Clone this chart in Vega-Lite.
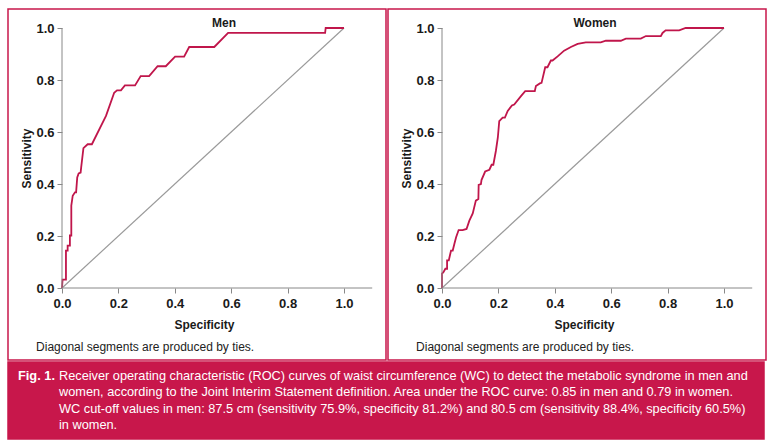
{
  "$schema": "https://vega.github.io/schema/vega-lite/v6.json",
  "background": "white",
  "padding": {"left": 7, "top": 8, "right": 7, "bottom": 8},
  "spacing": 0,
  "config": {
    "font": "Liberation Sans",
    "view": {"stroke": "#c8174b", "strokeWidth": 1.5},
    "axis": {
      "grid": false, "domain": false,
      "labelFont": "Liberation Sans", "labelFontSize": 13, "labelFontWeight": "bold", "labelColor": "#1a1a1a",
      "tickColor": "#888888", "tickSize": 5, "tickWidth": 1,
      "titleFont": "Liberation Sans", "titleFontSize": 12, "titleFontWeight": "bold", "titleColor": "#1a1a1a"
    }
  },
  "datasets": {
    "men": [
      {"i": 0, "spec": 0, "sens": 0},
      {"i": 1, "spec": 0.002, "sens": 0.032},
      {"i": 2, "spec": 0.014, "sens": 0.032},
      {"i": 3, "spec": 0.014, "sens": 0.144},
      {"i": 4, "spec": 0.020, "sens": 0.144},
      {"i": 5, "spec": 0.020, "sens": 0.163},
      {"i": 6, "spec": 0.028, "sens": 0.163},
      {"i": 7, "spec": 0.028, "sens": 0.202},
      {"i": 8, "spec": 0.033, "sens": 0.202},
      {"i": 9, "spec": 0.033, "sens": 0.317},
      {"i": 10, "spec": 0.038, "sens": 0.355},
      {"i": 11, "spec": 0.046, "sens": 0.368},
      {"i": 12, "spec": 0.050, "sens": 0.368},
      {"i": 13, "spec": 0.054, "sens": 0.425},
      {"i": 14, "spec": 0.059, "sens": 0.441},
      {"i": 15, "spec": 0.066, "sens": 0.444},
      {"i": 16, "spec": 0.068, "sens": 0.464},
      {"i": 17, "spec": 0.076, "sens": 0.538},
      {"i": 18, "spec": 0.091, "sens": 0.553},
      {"i": 19, "spec": 0.106, "sens": 0.553},
      {"i": 20, "spec": 0.156, "sens": 0.662},
      {"i": 21, "spec": 0.185, "sens": 0.751},
      {"i": 22, "spec": 0.195, "sens": 0.760},
      {"i": 23, "spec": 0.209, "sens": 0.760},
      {"i": 24, "spec": 0.223, "sens": 0.779},
      {"i": 25, "spec": 0.259, "sens": 0.779},
      {"i": 26, "spec": 0.279, "sens": 0.815},
      {"i": 27, "spec": 0.309, "sens": 0.815},
      {"i": 28, "spec": 0.339, "sens": 0.853},
      {"i": 29, "spec": 0.368, "sens": 0.853},
      {"i": 30, "spec": 0.401, "sens": 0.890},
      {"i": 31, "spec": 0.433, "sens": 0.890},
      {"i": 32, "spec": 0.451, "sens": 0.927},
      {"i": 33, "spec": 0.540, "sens": 0.927},
      {"i": 34, "spec": 0.589, "sens": 0.981},
      {"i": 35, "spec": 0.933, "sens": 0.981},
      {"i": 36, "spec": 0.935, "sens": 1.0},
      {"i": 37, "spec": 1.0, "sens": 1.0}
    ],
    "women": [
      {"i": 0, "spec": 0, "sens": 0},
      {"i": 1, "spec": 0, "sens": 0.055},
      {"i": 2, "spec": 0.005, "sens": 0.061},
      {"i": 3, "spec": 0.012, "sens": 0.074},
      {"i": 4, "spec": 0.018, "sens": 0.074},
      {"i": 5, "spec": 0.018, "sens": 0.106},
      {"i": 6, "spec": 0.024, "sens": 0.106},
      {"i": 7, "spec": 0.028, "sens": 0.125},
      {"i": 8, "spec": 0.032, "sens": 0.144},
      {"i": 9, "spec": 0.038, "sens": 0.144},
      {"i": 10, "spec": 0.044, "sens": 0.170},
      {"i": 11, "spec": 0.050, "sens": 0.195},
      {"i": 12, "spec": 0.059, "sens": 0.223},
      {"i": 13, "spec": 0.073, "sens": 0.223},
      {"i": 14, "spec": 0.087, "sens": 0.227},
      {"i": 15, "spec": 0.097, "sens": 0.259},
      {"i": 16, "spec": 0.109, "sens": 0.287},
      {"i": 17, "spec": 0.120, "sens": 0.336},
      {"i": 18, "spec": 0.129, "sens": 0.342},
      {"i": 19, "spec": 0.130, "sens": 0.397},
      {"i": 20, "spec": 0.138, "sens": 0.400},
      {"i": 21, "spec": 0.140, "sens": 0.415},
      {"i": 22, "spec": 0.153, "sens": 0.448},
      {"i": 23, "spec": 0.168, "sens": 0.455},
      {"i": 24, "spec": 0.176, "sens": 0.474},
      {"i": 25, "spec": 0.182, "sens": 0.474},
      {"i": 26, "spec": 0.191, "sens": 0.527},
      {"i": 27, "spec": 0.198, "sens": 0.579},
      {"i": 28, "spec": 0.203, "sens": 0.642},
      {"i": 29, "spec": 0.215, "sens": 0.655},
      {"i": 30, "spec": 0.223, "sens": 0.655},
      {"i": 31, "spec": 0.233, "sens": 0.681},
      {"i": 32, "spec": 0.248, "sens": 0.702},
      {"i": 33, "spec": 0.256, "sens": 0.706},
      {"i": 34, "spec": 0.280, "sens": 0.738},
      {"i": 35, "spec": 0.295, "sens": 0.757},
      {"i": 36, "spec": 0.329, "sens": 0.757},
      {"i": 37, "spec": 0.333, "sens": 0.777},
      {"i": 38, "spec": 0.347, "sens": 0.787},
      {"i": 39, "spec": 0.353, "sens": 0.789},
      {"i": 40, "spec": 0.366, "sens": 0.849},
      {"i": 41, "spec": 0.374, "sens": 0.849},
      {"i": 42, "spec": 0.386, "sens": 0.875},
      {"i": 43, "spec": 0.392, "sens": 0.875},
      {"i": 44, "spec": 0.410, "sens": 0.891},
      {"i": 45, "spec": 0.433, "sens": 0.913},
      {"i": 46, "spec": 0.457, "sens": 0.927},
      {"i": 47, "spec": 0.481, "sens": 0.939},
      {"i": 48, "spec": 0.510, "sens": 0.945},
      {"i": 49, "spec": 0.563, "sens": 0.945},
      {"i": 50, "spec": 0.581, "sens": 0.951},
      {"i": 51, "spec": 0.634, "sens": 0.951},
      {"i": 52, "spec": 0.652, "sens": 0.959},
      {"i": 53, "spec": 0.705, "sens": 0.959},
      {"i": 54, "spec": 0.723, "sens": 0.969},
      {"i": 55, "spec": 0.776, "sens": 0.969},
      {"i": 56, "spec": 0.782, "sens": 0.981},
      {"i": 57, "spec": 0.793, "sens": 0.991},
      {"i": 58, "spec": 0.841, "sens": 0.991},
      {"i": 59, "spec": 0.864, "sens": 1.0},
      {"i": 60, "spec": 1.0, "sens": 1.0}
    ],
    "diag": [{"i": 0, "spec": 0, "sens": 0}, {"i": 1, "spec": 1, "sens": 1}],
    "note": [{"note": "Diagonal segments are produced by ties."}],
    "menTitle": [{"label": "Men"}],
    "womenTitle": [{"label": "Women"}],
    "tag": [{"line": 1, "part": "tag", "text": "Fig. 1."}],
    "caption": [
      {"line": 1, "part": "body", "text": "Receiver operating characteristic (ROC) curves of waist circumference (WC) to detect the metabolic syndrome in men and"},
      {"line": 2, "part": "body", "text": "women, according to the Joint Interim Statement definition. Area under the ROC curve: 0.85 in men and 0.79 in women."},
      {"line": 3, "part": "body", "text": "WC cut-off values in men: 87.5 cm (sensitivity 75.9%, specificity 81.2%) and 80.5 cm (sensitivity 88.4%, specificity 60.5%)"},
      {"line": 4, "part": "body", "text": "in women."}
    ]
  },
  "vconcat": [
    {
      "spacing": 0,
      "hconcat": [
        {
          "width": 378, "height": 351,
          "layer": [
            {
              "data": {"name": "diag"},
              "mark": {"type": "line", "color": "#9a9a9a", "strokeWidth": 1.2},
              "encoding": {
                "x": {"field": "spec", "type": "quantitative", "scale": {"domain": [-0.1915, 1.1489], "nice": false, "zero": false},
                      "axis": {"title": "Specificity", "values": [0, 0.2, 0.4, 0.6, 0.8, 1], "format": ".1f", "offset": -72, "labelPadding": 4, "titleX": 196, "titleY": 36, "titleBaseline": "middle"}},
                "y": {"field": "sens", "type": "quantitative", "scale": {"domain": [-0.2769, 1.0731], "nice": false, "zero": false},
                      "axis": {"title": "Sensitivity", "values": [0, 0.2, 0.4, 0.6, 0.8, 1], "format": ".1f", "offset": -54, "labelPadding": 3, "titleX": -36, "titleY": 149, "titleBaseline": "middle"}},
                "order": {"field": "i"}
              }
            },
            {
              "data": {"name": "men"},
              "mark": {"type": "line", "color": "#c0164b", "strokeWidth": 1.8},
              "encoding": {
                "x": {"field": "spec", "type": "quantitative"},
                "y": {"field": "sens", "type": "quantitative"},
                "order": {"field": "i"}
              }
            },
            {
              "data": {"values": [{}]},
              "mark": {"type": "rule", "color": "#888888", "strokeWidth": 1},
              "encoding": {"x": {"datum": 0}, "y": {"datum": 0}, "y2": {"datum": 1}}
            },
            {
              "data": {"values": [{}]},
              "mark": {"type": "rule", "color": "#888888", "strokeWidth": 1},
              "encoding": {"x": {"datum": 0}, "x2": {"datum": 1.1}, "y": {"datum": 0}}
            },
            {
              "data": {"name": "menTitle"},
              "mark": {"type": "text", "align": "center", "baseline": "middle", "fontSize": 12, "fontWeight": "bold", "color": "#1a1a1a", "font": "Liberation Sans"},
              "encoding": {"x": {"datum": 0.5745}, "y": {"datum": 1.019}, "text": {"field": "label"}}
            },
            {
              "data": {"name": "note"},
              "mark": {"type": "text", "align": "left", "baseline": "middle", "fontSize": 12, "color": "#222222", "font": "Liberation Sans"},
              "encoding": {"x": {"datum": -0.092}, "y": {"datum": -0.227}, "text": {"field": "note"}}
            }
          ]
        },
        {
          "width": 378, "height": 351,
          "layer": [
            {
              "data": {"name": "diag"},
              "mark": {"type": "line", "color": "#9a9a9a", "strokeWidth": 1.2},
              "encoding": {
                "x": {"field": "spec", "type": "quantitative", "scale": {"domain": [-0.1915, 1.1489], "nice": false, "zero": false},
                      "axis": {"title": "Specificity", "values": [0, 0.2, 0.4, 0.6, 0.8, 1], "format": ".1f", "offset": -72, "labelPadding": 4, "titleX": 196, "titleY": 36, "titleBaseline": "middle"}},
                "y": {"field": "sens", "type": "quantitative", "scale": {"domain": [-0.2769, 1.0731], "nice": false, "zero": false},
                      "axis": {"title": "Sensitivity", "values": [0, 0.2, 0.4, 0.6, 0.8, 1], "format": ".1f", "offset": -54, "labelPadding": 3, "titleX": -36, "titleY": 149, "titleBaseline": "middle"}},
                "order": {"field": "i"}
              }
            },
            {
              "data": {"name": "women"},
              "mark": {"type": "line", "color": "#c0164b", "strokeWidth": 1.8},
              "encoding": {
                "x": {"field": "spec", "type": "quantitative"},
                "y": {"field": "sens", "type": "quantitative"},
                "order": {"field": "i"}
              }
            },
            {
              "data": {"values": [{}]},
              "mark": {"type": "rule", "color": "#888888", "strokeWidth": 1},
              "encoding": {"x": {"datum": 0}, "y": {"datum": 0}, "y2": {"datum": 1}}
            },
            {
              "data": {"values": [{}]},
              "mark": {"type": "rule", "color": "#888888", "strokeWidth": 1},
              "encoding": {"x": {"datum": 0}, "x2": {"datum": 1.1}, "y": {"datum": 0}}
            },
            {
              "data": {"name": "womenTitle"},
              "mark": {"type": "text", "align": "center", "baseline": "middle", "fontSize": 12, "fontWeight": "bold", "color": "#1a1a1a", "font": "Liberation Sans"},
              "encoding": {"x": {"datum": 0.5426}, "y": {"datum": 1.019}, "text": {"field": "label"}}
            },
            {
              "data": {"name": "note"},
              "mark": {"type": "text", "align": "left", "baseline": "middle", "fontSize": 12, "color": "#222222", "font": "Liberation Sans"},
              "encoding": {"x": {"datum": -0.092}, "y": {"datum": -0.227}, "text": {"field": "note"}}
            }
          ]
        }
      ]
    },
    {
      "width": 756, "height": 77,
      "view": {"fill": "#c8174b", "stroke": "#c8174b", "strokeWidth": 1.5},
      "layer": [
        {
          "data": {"name": "tag"},
          "mark": {"type": "text", "align": "left", "baseline": "middle", "fontSize": 12.8, "fontWeight": "bold", "color": "white", "font": "Liberation Sans"},
          "encoding": {
            "x": {"field": "part", "type": "nominal", "scale": {"type": "point", "domain": ["tag", "body"], "range": [10, 51], "padding": 0}, "axis": null},
            "y": {"field": "line", "type": "ordinal", "scale": {"type": "point", "domain": [1, 2, 3, 4], "range": [14, 63], "padding": 0}, "axis": null},
            "text": {"field": "text"}
          }
        },
        {
          "data": {"name": "caption"},
          "mark": {"type": "text", "align": "left", "baseline": "middle", "fontSize": 12.75, "color": "white", "font": "Liberation Sans"},
          "encoding": {
            "x": {"field": "part", "type": "nominal"},
            "y": {"field": "line", "type": "ordinal"},
            "text": {"field": "text"}
          }
        }
      ]
    }
  ]
}
